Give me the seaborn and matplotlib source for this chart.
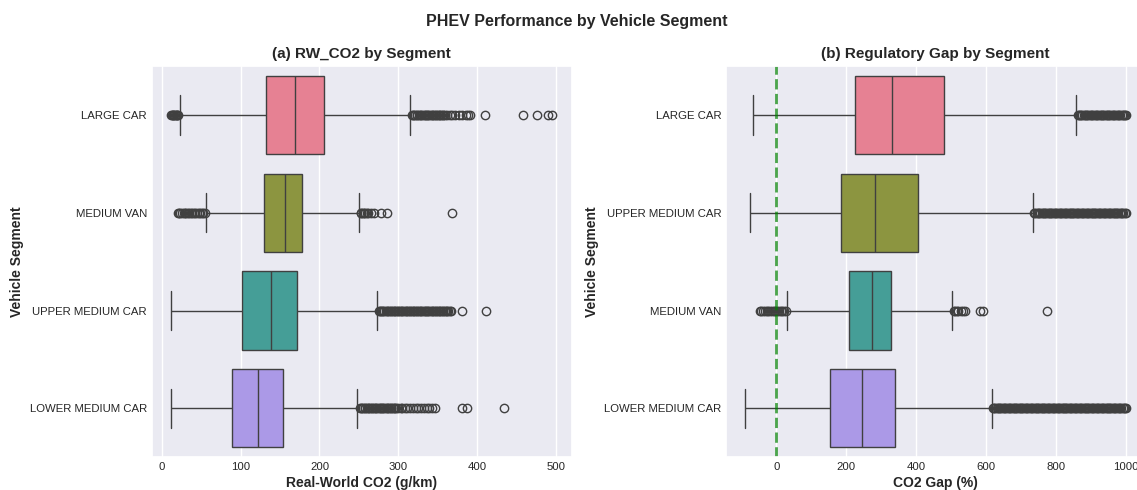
import matplotlib
matplotlib.use("Agg")
import matplotlib.pyplot as plt
import pandas as pd
import seaborn as sns

# ---------------- Panel (a): Real-World CO2 (g/km) ----------------
segments_a = ["LARGE CAR", "MEDIUM VAN", "UPPER MEDIUM CAR", "LOWER MEDIUM CAR"]
q1_a = [132.0, 129.5, 102.0, 89.4]
median_a = [169.0, 156.4, 138.0, 121.7]
q3_a = [205.3, 178.4, 171.0, 153.6]
whisker_lo_a = [23.0, 56.5, 11.7, 11.7]
whisker_hi_a = [315.0, 250.0, 273.3, 248.0]

outliers_large_a = [12, 13, 14, 15, 16, 17, 18, 19, 20, 21,
                    317, 318, 320, 321, 323, 324, 326, 327, 329, 330, 332, 333,
                    335, 336, 338, 339, 341, 342, 344, 345, 347, 348, 350, 351,
                    353, 354, 356, 357, 359,
                    362, 365, 368, 372, 377, 381, 385, 388, 391,
                    409, 458, 475, 489, 495]
outliers_van_a = [21, 22, 24, 26, 28, 30, 31, 33, 35, 37, 39, 41, 43, 45, 47,
                  49, 51, 53, 55,
                  252, 253, 255, 256, 258, 260, 262, 265, 269, 278, 286, 368]
outliers_upper_a = [275, 276, 278, 279, 281, 282, 284, 285, 287, 288, 290, 291,
                    293, 294, 296, 297, 299, 300, 302, 303, 305, 306, 308, 309,
                    311, 312, 314, 315, 317, 318, 320, 321, 323, 324, 326, 327,
                    329, 330, 332, 333, 335, 336, 338, 339, 341, 342, 344, 345,
                    347, 348, 350, 351, 353, 354, 356, 357, 359, 360, 362, 363,
                    365, 366,
                    381, 411]
outliers_lower_a = [251, 252, 254, 255, 257, 258, 260, 261, 263, 264, 266, 267,
                    269, 270, 272, 273, 275, 276, 278, 279, 281, 282, 284, 285,
                    287, 288, 290, 291, 293, 294, 296, 297,
                    300, 303, 305, 308, 311, 314, 318, 322, 325, 328, 332, 336,
                    339, 342, 346,
                    380, 387, 433]

# ---------------- Panel (b): CO2 Gap (%) ----------------
segments_b = ["LARGE CAR", "UPPER MEDIUM CAR", "MEDIUM VAN", "LOWER MEDIUM CAR"]
q1_b = [226.0, 185.0, 208.0, 154.0]
median_b = [330.0, 281.0, 274.0, 245.0]
q3_b = [480.0, 406.0, 327.0, 340.0]
whisker_lo_b = [-66.0, -76.5, 31.0, -89.0]
whisker_hi_b = [858.0, 735.0, 502.0, 617.0]

outliers_large_b = [862, 865, 869, 872, 876, 879, 883, 886, 890, 893, 897, 900,
                    904, 907, 911, 914, 918, 921, 925, 928, 932, 935, 939, 942,
                    946, 949, 953, 956, 960, 963, 967, 970, 974, 977, 981, 984,
                    988, 991, 995, 998, 1000]
outliers_upper_b = [738, 741, 745, 748, 752, 755, 759, 762, 766, 769, 773, 776,
                    780, 783, 787, 790, 794, 797, 801, 804, 808, 811, 815, 818,
                    822, 825, 829, 832, 836, 839, 843, 846, 850, 853, 857, 860,
                    864, 867, 871, 874, 878, 881, 885, 888, 892, 895, 899, 902,
                    906, 909, 913, 916, 920, 923, 927, 930, 934, 937, 941, 944,
                    948, 951, 955, 958, 962, 965, 969, 972, 976, 979, 983, 986,
                    990, 993, 997, 1000]
outliers_van_b = [-48, -43, -38, -33, -28, -23, -18, -13, -8, -3, 2, 7, 12, 17,
                  22, 27,
                  509, 512, 516, 521, 527, 534, 539, 583, 592, 774]
outliers_lower_b = [620, 623, 627, 630, 634, 637, 641, 644, 648, 651, 655, 658,
                    662, 665, 669, 672, 676, 679, 683, 686, 690, 693, 697, 700,
                    704, 707, 711, 714, 718, 721, 725, 728, 732, 735, 739, 742,
                    746, 749, 753, 756, 760, 763, 767, 770, 774, 777, 781, 784,
                    788, 791, 795, 798, 802, 805, 809, 812, 816, 819, 823, 826,
                    830, 833, 837, 840, 844, 847, 851, 854, 858, 861, 865, 868,
                    872, 875, 879, 882, 886, 889, 893, 896, 900, 903, 907, 910,
                    914, 917, 921, 924, 928, 931, 935, 938, 942, 945, 949, 952,
                    956, 959, 963, 966, 970, 973, 977, 980, 984, 987, 991, 994,
                    998, 1000]

outliers_a = [outliers_large_a, outliers_van_a, outliers_upper_a, outliers_lower_a]
outliers_b = [outliers_large_b, outliers_upper_b, outliers_van_b, outliers_lower_b]

# weight used so the quartiles land exactly on the read values
WEIGHT = 400


def build_frame(segments, q1, med, q3, wlo, whi, outs):
    rows = []
    for i, seg in enumerate(segments):
        vals = ([wlo[i]] + [q1[i]] * WEIGHT + [med[i]] * WEIGHT +
                [q3[i]] * WEIGHT + [whi[i]] + list(outs[i]))
        rows.extend((seg, v) for v in vals)
    return pd.DataFrame(rows, columns=["segment", "value"])


df_a = build_frame(segments_a, q1_a, median_a, q3_a, whisker_lo_a, whisker_hi_a, outliers_a)
df_b = build_frame(segments_b, q1_b, median_b, q3_b, whisker_lo_b, whisker_hi_b, outliers_b)

sns.set_theme(style="darkgrid")
plt.rcParams["font.family"] = ["Liberation Sans", "DejaVu Sans"]

fig = plt.figure(figsize=(11.37, 4.90), dpi=100)
ax1 = fig.add_axes([0.1334, 0.0669, 0.3693, 0.7982])
ax2 = fig.add_axes([0.6387, 0.0669, 0.3682, 0.7982])

sns.boxplot(data=df_a, x="value", y="segment", hue="segment",
            order=segments_a, hue_order=segments_a, palette="husl",
            legend=False, ax=ax1)
sns.boxplot(data=df_b, x="value", y="segment", hue="segment",
            order=segments_b, hue_order=segments_b, palette="husl",
            legend=False, ax=ax2)
ax2.axvline(0, color="green", linestyle="--", linewidth=2, alpha=0.7)

ax1.set_title("(a) RW_CO2 by Segment", fontsize=11, fontweight="bold")
ax2.set_title("(b) Regulatory Gap by Segment", fontsize=11, fontweight="bold")
ax1.set_xlabel("Real-World CO2 (g/km)", fontsize=10, fontweight="bold", labelpad=3)
ax2.set_xlabel("CO2 Gap (%)", fontsize=10, fontweight="bold", labelpad=3)
for ax in (ax1, ax2):
    ax.set_ylabel("Vehicle Segment", fontsize=10, fontweight="bold", labelpad=4)
    ax.tick_params(labelsize=8.2, length=0, pad=3.5)

fig.suptitle("PHEV Performance by Vehicle Segment", fontsize=11.5,
             fontweight="bold", x=0.507, y=0.957, va="center")

fig.savefig("out.png", dpi=100)
